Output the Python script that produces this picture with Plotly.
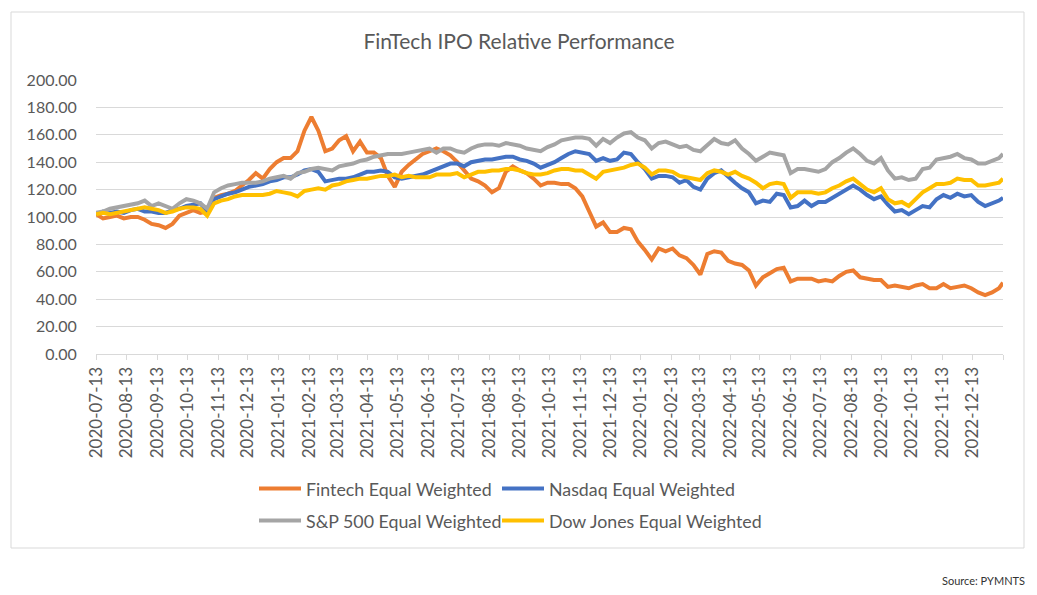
import pandas as pd
import plotly.graph_objects as go

# Weekly sampling dates (Mondays), plus the final day
dates = list(pd.date_range("2020-07-13", periods=131, freq="7D").strftime("%Y-%m-%d")) + ["2023-01-13"]

fintech = [102, 99, 100, 101, 99, 100, 100, 98, 95, 94,
           92, 95, 101, 103, 105, 103, 104, 114, 116, 117,
           119, 123, 127, 132, 128, 135, 140, 143, 143, 148,
           163, 173, 163, 148, 150, 156, 159, 148, 155, 147,
           147, 143, 130, 122, 133, 138, 142, 146, 148, 150,
           148, 145, 140, 134, 128, 126, 123, 118, 121, 133,
           137, 134, 132, 128, 123, 125, 125, 124, 124, 121,
           115, 104, 93, 96, 89, 89, 92, 91, 82, 76,
           69, 77, 75, 77, 72, 70, 65, 58, 73, 75,
           74, 68, 66, 65, 61, 50, 56, 59, 62, 63,
           53, 55, 55, 55, 53, 54, 53, 57, 60, 61,
           56, 55, 54, 54, 49, 50, 49, 48, 50, 51,
           48, 48, 51, 48, 49, 50, 48, 45, 43, 45,
           48, 52]

nasdaq = [102, 104, 103, 104, 103, 105, 106, 104, 104, 103,
          103, 105, 106, 108, 109, 110, 104, 113, 115, 117,
          118, 120, 122, 123, 124, 126, 127, 129, 129, 131,
          134, 135, 133, 126, 127, 128, 128, 129, 131, 133,
          133, 134, 133, 129, 128, 129, 130, 131, 133, 135,
          137, 139, 139, 137, 140, 141, 142, 142, 143, 144,
          144, 142, 141, 139, 136, 138, 140, 143, 146, 148,
          147, 146, 141, 143, 141, 142, 147, 146, 140, 135,
          128, 130, 130, 129, 125, 127, 122, 120, 128, 132,
          134, 129, 125, 121, 118, 110, 112, 111, 117, 116,
          107, 108, 112, 108, 111, 111, 114, 117, 120, 123,
          120, 116, 113, 115, 109, 104, 105, 102, 105, 108,
          107, 113, 116, 114, 117, 115, 116, 111, 108, 110,
          112, 114]

sp500 = [103, 104, 106, 107, 108, 109, 110, 112, 108, 110,
         108, 106, 110, 113, 112, 110, 106, 118, 121, 123,
         124, 125, 125, 125, 126, 128, 129, 130, 128, 132,
         133, 135, 136, 135, 134, 137, 138, 139, 141, 142,
         144, 145, 146, 146, 146, 147, 148, 149, 150, 147,
         150, 150, 148, 147, 150, 152, 153, 153, 152, 154,
         153, 152, 150, 149, 148, 151, 153, 156, 157, 158,
         158, 157, 152, 157, 154, 158, 161, 162, 158, 156,
         150, 154, 155, 153, 151, 152, 149, 148, 153, 157,
         154, 153, 156, 150, 146, 141, 144, 147, 146, 145,
         132, 135, 135, 134, 133, 135, 140, 143, 147, 150,
         146, 141, 139, 143, 134, 128, 129, 127, 128, 135,
         136, 142, 143, 144, 146, 143, 142, 139, 139, 141,
         143, 146]

dow = [102, 103, 102, 103, 104, 105, 106, 107, 106, 105,
       103, 104, 106, 107, 107, 106, 101, 110, 112, 113,
       115, 116, 116, 116, 116, 117, 119, 118, 117, 115,
       119, 120, 121, 120, 123, 124, 126, 127, 128, 128,
       129, 130, 130, 131, 129, 130, 129, 129, 129, 131,
       131, 131, 132, 129, 131, 133, 133, 134, 134, 135,
       135, 134, 132, 131, 131, 132, 134, 135, 135, 134,
       134, 131, 128, 133, 134, 135, 136, 138, 139, 136,
       131, 134, 134, 133, 130, 129, 128, 127, 132, 134,
       133, 131, 133, 130, 128, 125, 121, 124, 125, 124,
       114, 118, 118, 118, 117, 118, 121, 123, 126, 128,
       124, 120, 118, 121, 113, 110, 111, 108, 113, 118,
       121, 124, 124, 125, 128, 127, 127, 123, 123, 124,
       125, 128]

series_names = ["Fintech Equal Weighted", "Nasdaq Equal Weighted",
                "S&P 500 Equal Weighted", "Dow Jones Equal Weighted"]
series_values = [fintech, nasdaq, sp500, dow]
series_colors = ["#ED7D31", "#4472C4", "#A5A5A5", "#FFC000"]
series_legend = ["legend", "legend2", "legend3", "legend4"]

tick_dates = list(pd.date_range("2020-07-01", "2023-01-13", freq="MS").strftime("%Y-%m-13"))
tick_text = tick_dates[:-1] + [""]

y_ticks = [0, 20, 40, 60, 80, 100, 120, 140, 160, 180, 200]

FONT = "Lato, Carlito, Calibri, sans-serif"
GREY_TXT = "#595959"

fig = go.Figure()
for name, vals, col, lg in zip(series_names, series_values, series_colors, series_legend):
    fig.add_trace(go.Scatter(x=dates, y=vals, mode="lines", name=name, legend=lg,
                             line=dict(color=col, width=4)))

# page has an 8px body margin: figure coords = page coords - 8
OFF = 8
W, H = 1037 - OFF, 595 - OFF
L, R, T, B = 88, 34, 72, 241
pw, ph = W - L - R, H - T - B

def px(x_page):
    return (x_page - OFF - L) / pw

def py(y_page):
    return (H - B - (y_page - OFF)) / ph

def legend_box(x_page, y_page):
    return dict(orientation="v", x=px(x_page), y=py(y_page), xanchor="left", yanchor="middle",
                itemwidth=42, font=dict(size=17.8, color=GREY_TXT, family=FONT),
                bgcolor="rgba(0,0,0,0)")

fig.update_layout(
    width=W, height=H,
    margin=dict(l=L, r=R, t=T, b=B),
    paper_bgcolor="white", plot_bgcolor="white",
    font=dict(family=FONT, color=GREY_TXT),
    title=dict(text="FinTech IPO Relative Performance", x=(519 - OFF) / W, xref="container",
               y=1 - (42 - OFF) / H, yref="container", yanchor="middle", xanchor="center",
               font=dict(size=21, color=GREY_TXT, family=FONT)),
    xaxis=dict(type="date", range=["2020-07-12 22:00", "2023-01-13"],
               tickmode="array", tickvals=tick_dates, ticktext=tick_text,
               tickangle=-90, tickfont=dict(size=17, color=GREY_TXT),
               showgrid=False, showline=True, linecolor="#D9D9D9", linewidth=1,
               ticks="outside", ticklen=5, tickcolor="#D9D9D9", zeroline=False),
    yaxis=dict(range=[0, 200], tickvals=y_ticks, tickformat=".2f",
               tickfont=dict(size=16, color=GREY_TXT),
               showgrid=True, gridcolor="#D9D9D9", gridwidth=1,
               showline=False, zeroline=False,
               ticks="outside", ticklen=15, tickcolor="rgba(0,0,0,0)"),
    legend=legend_box(254, 489),
    legend2=legend_box(497, 489),
    legend3=legend_box(254, 521),
    legend4=legend_box(497, 521),
    showlegend=True,
    shapes=[dict(type="rect", xref="paper", yref="paper",
                 x0=px(11), x1=px(1024), y0=py(548), y1=py(12),
                 line=dict(color="#D9D9D9", width=1), fillcolor="rgba(0,0,0,0)", layer="below")],
    annotations=[dict(text="Source: PYMNTS", xref="paper", yref="paper",
                      x=px(1027), y=py(580), xanchor="right", yanchor="middle",
                      showarrow=False, font=dict(size=11, color="#333333", family=FONT))],
)

fig.write_html("out.html")
